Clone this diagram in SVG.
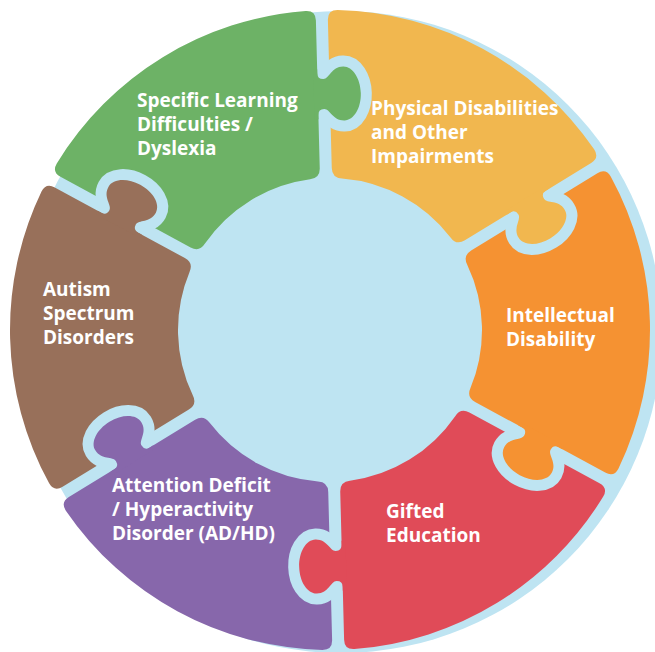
<svg xmlns="http://www.w3.org/2000/svg" xmlns:xlink="http://www.w3.org/1999/xlink" width="655" height="652" viewBox="0 0 655 652">
  <style>
    .lbl { font-family: "Open Sans", "Liberation Sans", sans-serif; font-weight: 700; font-size: 19px; fill: #ffffff; }
  </style>
  <defs>
    <path id="sector" d="M 309.94 6 Q 319.94 6 319.60 15.99 A 320 320 0 0 1 173.66 268.78 Q 165.17 274.08 160.17 265.42 L 86.14 137.19 Q 81.14 128.53 89.42 122.92 A 152 152 0 0 0 151.16 15.97 Q 151.88 6 161.88 6 Z"/>
    <path id="tab" d="M 261 -10 L 261 -6 L 257 -6 Q 251 -6 251 0 C 251 6 263 8 263 20 C 263 29.4 250.9 37 236 37 C 221.1 37 209 29.4 209 20 C 209 8 221 6 221 0 Q 221 -6 215 -6 L 211 -6 L 211 -10 Z"/>
    <mask id="sock" maskUnits="userSpaceOnUse" x="-400" y="-400" width="800" height="800">
      <rect x="-400" y="-400" width="800" height="800" fill="#ffffff"/>
      <use xlink:href="#tab" href="#tab" fill="#000000" stroke="#000000" stroke-width="22" stroke-linejoin="round"/>
    </mask>
  </defs>

  <circle id="ring-background" cx="341" cy="332" r="321" fill="#BEE4F2"/>

  <g id="piece-green">
    <g transform="translate(330 330) rotate(208.5)" fill="#6DB266">
      <use xlink:href="#sector" href="#sector" mask="url(#sock)"/>
      <use xlink:href="#tab" href="#tab" transform="rotate(60)"/>
    </g>
    <text class="lbl" x="137" y="107">Specific Learning</text>
    <text class="lbl" x="137" y="131">Difficulties /</text>
    <text class="lbl" x="137" y="155">Dyslexia</text>
  </g>

  <g id="piece-yellow">
    <g transform="translate(330 330) rotate(268.5)" fill="#F1B74F">
      <use xlink:href="#sector" href="#sector" mask="url(#sock)"/>
      <use xlink:href="#tab" href="#tab" transform="rotate(60)"/>
    </g>
    <text class="lbl" x="371" y="115">Physical Disabilities</text>
    <text class="lbl" x="371" y="139">and Other</text>
    <text class="lbl" x="371" y="163">Impairments</text>
  </g>

  <g id="piece-orange">
    <g transform="translate(330 330) rotate(328.5)" fill="#F59232">
      <use xlink:href="#sector" href="#sector" mask="url(#sock)"/>
      <use xlink:href="#tab" href="#tab" transform="rotate(60)"/>
    </g>
    <text class="lbl" x="506" y="322">Intellectual</text>
    <text class="lbl" x="506" y="346">Disability</text>
  </g>

  <g id="piece-red">
    <g transform="translate(330 330) rotate(28.5)" fill="#E04B58">
      <use xlink:href="#sector" href="#sector" mask="url(#sock)"/>
      <use xlink:href="#tab" href="#tab" transform="rotate(60)"/>
    </g>
    <text class="lbl" x="386" y="518">Gifted</text>
    <text class="lbl" x="386" y="542">Education</text>
  </g>

  <g id="piece-purple">
    <g transform="translate(330 330) rotate(88.5)" fill="#8767AB">
      <use xlink:href="#sector" href="#sector" mask="url(#sock)"/>
      <use xlink:href="#tab" href="#tab" transform="rotate(60)"/>
    </g>
    <text class="lbl" x="112" y="492">Attention Deficit</text>
    <text class="lbl" x="112" y="516">/ Hyperactivity</text>
    <text class="lbl" x="112" y="540">Disorder (AD/HD)</text>
  </g>

  <g id="piece-brown">
    <g transform="translate(330 330) rotate(148.5)" fill="#98705A">
      <use xlink:href="#sector" href="#sector" mask="url(#sock)"/>
      <use xlink:href="#tab" href="#tab" transform="rotate(60)"/>
    </g>
    <text class="lbl" x="43" y="296">Autism</text>
    <text class="lbl" x="43" y="320">Spectrum</text>
    <text class="lbl" x="43" y="344">Disorders</text>
  </g>
</svg>
